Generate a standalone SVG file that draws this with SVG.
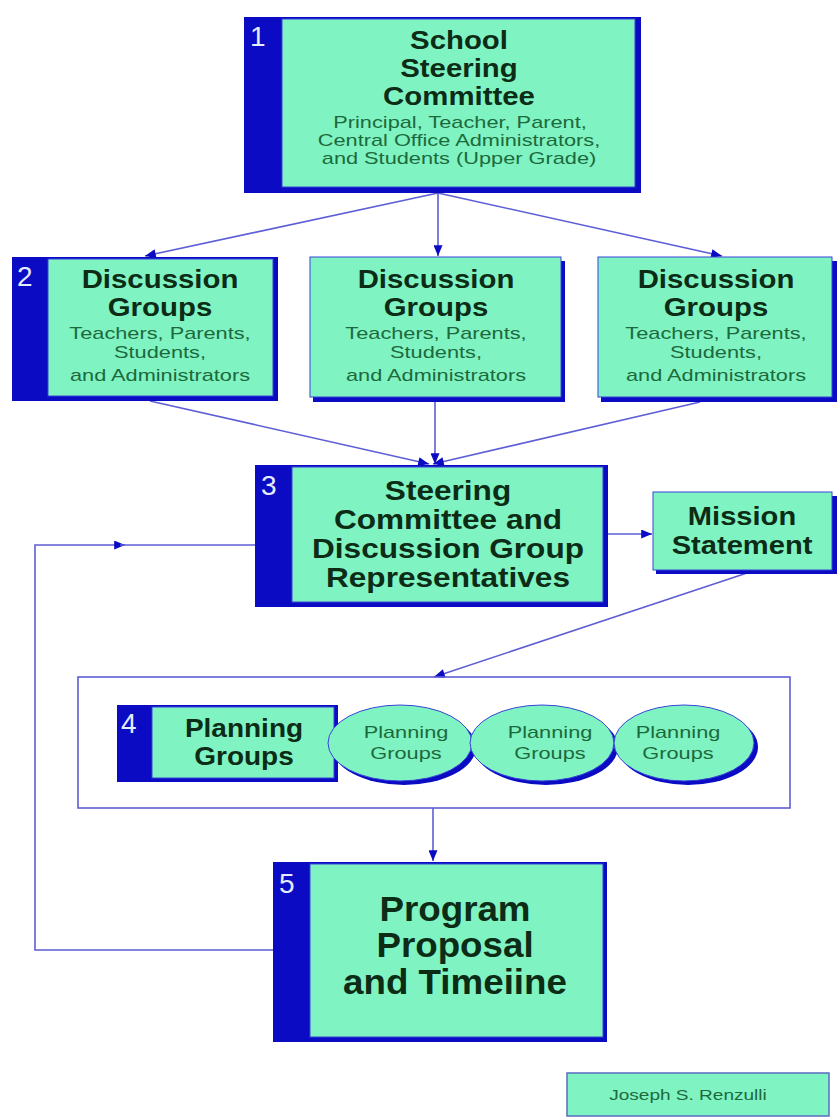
<svg xmlns="http://www.w3.org/2000/svg" width="837" height="1120" viewBox="0 0 837 1120">
<style>
.dk{fill:#0b0bc4}
.gr{fill:#80f3c2;stroke:#3644d8;stroke-width:1}
.num{font-family:"Liberation Sans",Arial,sans-serif;font-size:28px;fill:#e4ecff}
.b{font-family:"Liberation Sans",Arial,sans-serif;font-weight:bold;fill:#0c2c16;text-anchor:middle}
.s{font-family:"Liberation Sans",Arial,sans-serif;fill:#1c6a3c;text-anchor:middle}
.ln{fill:none;stroke:#5e5ed6;stroke-width:1.6}
</style>
<defs>
<marker id="ah" viewBox="0 0 12 10" refX="12" refY="5" markerWidth="12" markerHeight="9" markerUnits="userSpaceOnUse" orient="auto">
<path d="M0,0 L12,5 L0,10 Z" fill="#0b0bc4"/>
</marker>
</defs>
<rect width="837" height="1120" fill="#ffffff"/>

<g id="connectors">
<path class="ln" d="M438,193 L145,256" marker-end="url(#ah)"/>
<path class="ln" d="M438,193 L438,256" marker-end="url(#ah)"/>
<path class="ln" d="M438,193 L722,256" marker-end="url(#ah)"/>
<path class="ln" d="M150,401 L429,464" marker-end="url(#ah)"/>
<path class="ln" d="M435,401 L435,464" marker-end="url(#ah)"/>
<path class="ln" d="M700,402 L433,464" marker-end="url(#ah)"/>
<path class="ln" d="M607,534 L652,534" marker-end="url(#ah)"/>
<path class="ln" d="M747,573 L434,677" marker-end="url(#ah)"/>
<path class="ln" d="M433,808 L433,861" marker-end="url(#ah)"/>
<path class="ln" d="M273,950 L35,950 L35,545 L125,545" marker-end="url(#ah)"/>
<path class="ln" d="M120,545 L255,545"/>
<rect x="78" y="677" width="712" height="131" class="ln"/>
</g>

<g id="node1">
<rect class="dk" x="244" y="17" width="397" height="176"/>
<rect class="gr" x="282" y="19" width="353" height="168"/>
<text class="num" x="250" y="46">1</text>
<g class="b" font-size="26">
<text transform="translate(459,49) scale(1.13,1)">School</text>
<text transform="translate(459,77) scale(1.13,1)">Steering</text>
<text transform="translate(459,105) scale(1.13,1)">Committee</text>
</g>
<g class="s" font-size="17">
<text transform="translate(460,128) scale(1.28,1)">Principal, Teacher, Parent,</text>
<text transform="translate(459,146) scale(1.28,1)">Central Office Administrators,</text>
<text transform="translate(459,164) scale(1.28,1)">and Students (Upper Grade)</text>
</g>
</g>

<g id="node2a">
<rect class="dk" x="12" y="257" width="266" height="144"/>
<rect class="gr" x="48" y="259" width="225" height="137"/>
<text class="num" x="17" y="286">2</text>
<g class="b" font-size="26">
<text transform="translate(160,288) scale(1.13,1)">Discussion</text>
<text transform="translate(160,316) scale(1.13,1)">Groups</text>
</g>
<g class="s" font-size="17">
<text transform="translate(160,339) scale(1.28,1)">Teachers, Parents,</text>
<text transform="translate(160,358) scale(1.28,1)">Students,</text>
<text transform="translate(160,381) scale(1.28,1)">and Administrators</text>
</g>
</g>

<g id="node2b">
<rect class="dk" x="313" y="261" width="252" height="141"/>
<rect class="gr" x="310" y="257" width="251" height="140"/>
<g class="b" font-size="26">
<text transform="translate(436,288) scale(1.13,1)">Discussion</text>
<text transform="translate(436,316) scale(1.13,1)">Groups</text>
</g>
<g class="s" font-size="17">
<text transform="translate(436,339) scale(1.28,1)">Teachers, Parents,</text>
<text transform="translate(436,358) scale(1.28,1)">Students,</text>
<text transform="translate(436,381) scale(1.28,1)">and Administrators</text>
</g>
</g>

<g id="node2c">
<rect class="dk" x="601" y="261" width="236" height="141"/>
<rect class="gr" x="598" y="257" width="234" height="140"/>
<g class="b" font-size="26">
<text transform="translate(716,288) scale(1.13,1)">Discussion</text>
<text transform="translate(716,316) scale(1.13,1)">Groups</text>
</g>
<g class="s" font-size="17">
<text transform="translate(716,339) scale(1.28,1)">Teachers, Parents,</text>
<text transform="translate(716,358) scale(1.28,1)">Students,</text>
<text transform="translate(716,381) scale(1.28,1)">and Administrators</text>
</g>
</g>

<g id="node3">
<rect class="dk" x="255" y="465" width="353" height="142"/>
<rect class="gr" x="292" y="467" width="311" height="135"/>
<text class="num" x="261" y="495">3</text>
<g class="b" font-size="27">
<text transform="translate(448,500) scale(1.17,1)">Steering</text>
<text transform="translate(448,529) scale(1.17,1)">Committee and</text>
<text transform="translate(448,558) scale(1.17,1)">Discussion Group</text>
<text transform="translate(448,587) scale(1.17,1)">Representatives</text>
</g>
</g>

<g id="mission">
<rect class="dk" x="656" y="496" width="181" height="78"/>
<rect class="gr" x="653" y="492" width="179" height="78"/>
<g class="b" font-size="26">
<text transform="translate(742,525) scale(1.12,1)">Mission</text>
<text transform="translate(742,554) scale(1.12,1)">Statement</text>
</g>
</g>

<g id="node4">
<rect class="dk" x="117" y="705" width="221" height="77"/>
<rect class="gr" x="152" y="707" width="182" height="71"/>
<text class="num" x="121" y="733">4</text>
<g class="b" font-size="25">
<text transform="translate(244,737) scale(1.12,1)">Planning</text>
<text transform="translate(244,765) scale(1.12,1)">Groups</text>
</g>
</g>

<g id="pg1">
<ellipse class="dk" cx="404" cy="747" rx="72" ry="38"/>
<ellipse class="gr" cx="400" cy="743" rx="72" ry="38"/>
<g class="s" font-size="17">
<text transform="translate(406,738) scale(1.28,1)">Planning</text>
<text transform="translate(406,759) scale(1.28,1)">Groups</text>
</g>
</g>
<g id="pg2">
<ellipse class="dk" cx="546" cy="747" rx="72" ry="38"/>
<ellipse class="gr" cx="542" cy="743" rx="72" ry="38"/>
<g class="s" font-size="17">
<text transform="translate(550,738) scale(1.28,1)">Planning</text>
<text transform="translate(550,759) scale(1.28,1)">Groups</text>
</g>
</g>
<g id="pg3">
<ellipse class="dk" cx="688" cy="747" rx="70" ry="38"/>
<ellipse class="gr" cx="684" cy="743" rx="70" ry="38"/>
<g class="s" font-size="17">
<text transform="translate(678,738) scale(1.28,1)">Planning</text>
<text transform="translate(678,759) scale(1.28,1)">Groups</text>
</g>
</g>

<g id="node5">
<rect class="dk" x="273" y="862" width="334" height="180"/>
<rect class="gr" x="310" y="864" width="293" height="173"/>
<text class="num" x="279" y="893">5</text>
<g class="b" font-size="35">
<text transform="translate(455,921) scale(1.05,1)">Program</text>
<text transform="translate(455,957) scale(1.05,1)">Proposal</text>
<text transform="translate(455,994) scale(1.05,1)">and Timeiine</text>
</g>
</g>

<g id="credit">
<rect x="567" y="1073" width="262" height="43" fill="#80f3c2" stroke="#5a6cc0" stroke-width="1.5"/>
<text class="s" font-size="15" transform="translate(688,1100) scale(1.27,1)">Joseph S. Renzulli</text>
</g>
</svg>
